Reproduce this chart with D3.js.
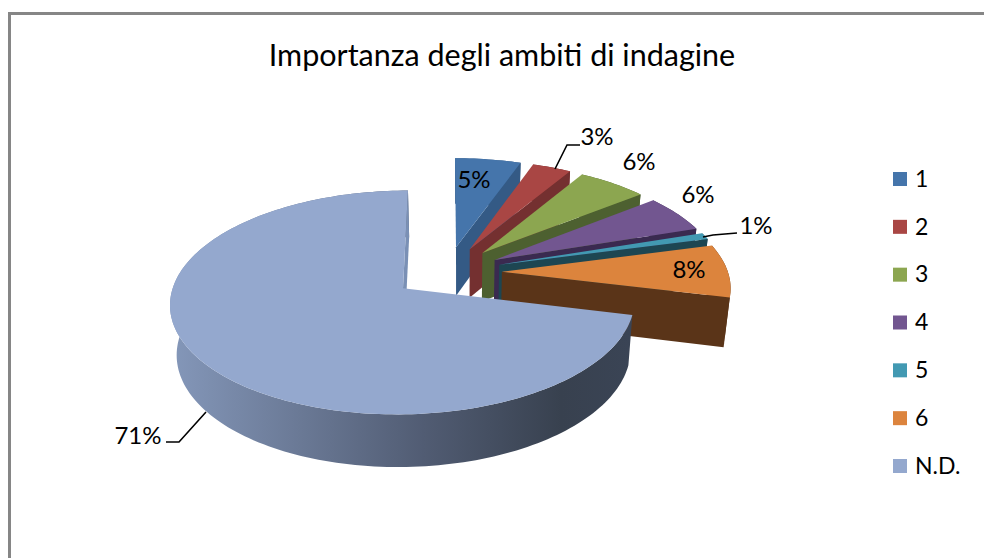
<!DOCTYPE html>
<html>
<head>
<meta charset="utf-8">
<script src="https://cdn.jsdelivr.net/npm/d3@7"></script>
<style>
html, body { margin: 0; padding: 0; background: #fff; }
svg { display: block; }
text { font-family: Lato, "Open Sans", sans-serif; fill: #000; }
</style>
</head>
<body>
<svg id="chart" width="984" height="558"></svg>
<script>
const titleText = 'Importanza degli ambiti di indagine';
const categories = ['1', '2', '3', '4', '5', '6', 'N.D.'];
const values = [5.4, 3.2, 5.7, 5.6, 1.0, 7.9, 71.2];
const topColors = ['#4575ab', '#a94644', '#8ca650', '#725690', '#4299b2', '#dc843d', '#94a8ce'];
const sideColors = ['#345a85', '#743030', '#4d6030', '#3a2a50', '#1d4652', '#5a3418', '#7a90b5'];

// Disk geometry, worked out from the reference
const cx = 447, cy = 272;
const rx = 226, ry = 106;
const persp = 0.125;      // how much the far side of the disk shrinks
const explode = 0.243;    // slice pull-out, in radius units
const depth = 49;

const svg = d3.select('#chart');
const defs = svg.append('defs');

const color = d3.scaleOrdinal().domain(categories).range(topColors);
const sideColor = d3.scaleOrdinal().domain(categories).range(sideColors);

// Front wall of the big slice fades from light (left) to dark (right)
const wallGrad = defs.append('linearGradient')
    .attr('id', 'wallGrad')
    .attr('gradientUnits', 'userSpaceOnUse')
    .attr('x1', 172).attr('x2', 630).attr('y1', 0).attr('y2', 0);
[[0, '#8497b9'], [0.55, '#515c73'], [0.85, '#38414f'], [1, '#3a4455']].forEach(s => {
    wallGrad.append('stop').attr('offset', s[0]).attr('stop-color', s[1]);
});

// Frame, only top and left sides show
svg.append('path')
    .attr('d', 'M9.5,558V13.5H984')
    .attr('fill', 'none')
    .attr('stroke', '#868686')
    .attr('stroke-width', 3);

svg.append('text')
    .attr('x', 502)
    .attr('y', 66)
    .attr('text-anchor', 'middle')
    .attr('font-size', 30.5)
    .text(titleText);

const pie = d3.pie().sort(null).value(d => d.value)
    .startAngle(0).endAngle(2 * Math.PI);
const slices = pie(categories.map((c, i) => ({name: c, value: values[i]})));

// Disk coordinates (u to the right, v toward the viewer) to screen
function project(u, v, lower) {
    const w = 1 - persp * v;
    const x = cx + rx * u / w;
    const y = cy + ry * v / w;
    if (!lower) return [x, y];
    return [460 + (x - 460) * 0.977, y + depth / (1 - 0.06 * v)];
}

function apex(s) {
    const mid = (s.startAngle + s.endAngle) / 2;
    return [explode * Math.sin(mid), -explode * Math.cos(mid)];
}

function rim(s, a, lower) {
    const o = apex(s);
    return project(o[0] + Math.sin(a), o[1] - Math.cos(a), lower);
}

function arcPoints(s, lower) {
    const n = Math.max(8, Math.ceil((s.endAngle - s.startAngle) * 40));
    return d3.range(n + 1).map(i => rim(s, s.startAngle + (s.endAngle - s.startAngle) * i / n, lower));
}

const line = d3.line();
const closed = pts => line(pts) + 'Z';

const groups = svg.selectAll('.slice')
    .data(slices)
    .join('g')
    .attr('class', 'slice');

// outer wall
groups.append('path')
    .attr('d', d => closed(arcPoints(d, false).concat(arcPoints(d, true).reverse())))
    .attr('fill', d => d.data.name === 'N.D.' ? 'url(#wallGrad)' : sideColor(d.data.name));

// cut face on the clockwise side
groups.append('path')
    .attr('d', d => {
        const o = apex(d);
        return closed([
            project(o[0], o[1], false),
            rim(d, d.endAngle, false),
            rim(d, d.endAngle, true),
            project(o[0], o[1], true)
        ]);
    })
    .attr('fill', d => sideColor(d.data.name));

// top face
groups.append('path')
    .attr('d', d => {
        const o = apex(d);
        return closed([project(o[0], o[1], false)].concat(arcPoints(d, false)));
    })
    .attr('fill', d => color(d.data.name));

// Data labels, placed by hand like the original
const labelPos = {
    '1': {x: 474, y: 182},
    '2': {x: 597, y: 139},
    '3': {x: 639, y: 164},
    '4': {x: 698, y: 197},
    '5': {x: 756, y: 228},
    '6': {x: 689, y: 272},
    'N.D.': {x: 138, y: 438}
};

svg.selectAll('.label')
    .data(slices)
    .join('text')
    .attr('class', 'label')
    .attr('x', d => labelPos[d.data.name].x)
    .attr('y', d => labelPos[d.data.name].y)
    .attr('text-anchor', 'middle')
    .attr('dominant-baseline', 'middle')
    .attr('font-size', 24)
    .text(d => Math.round(d.data.value) + '%');

// Leader lines for the labels sitting away from their slice
const leaders = [
    [[555, 169], [567, 145], [580, 145]],
    [[703, 237], [713, 235], [737, 233]],
    [[206, 412], [179, 442], [166, 442]]
];
svg.selectAll('.leader')
    .data(leaders)
    .join('path')
    .attr('class', 'leader')
    .attr('d', line)
    .attr('fill', 'none')
    .attr('stroke', '#000')
    .attr('stroke-width', 1.6);

// Legend
const legendY = d3.scalePoint().domain(categories).range([179, 466]);
const legend = svg.selectAll('.legend')
    .data(categories)
    .join('g')
    .attr('class', 'legend')
    .attr('transform', d => `translate(893,${legendY(d)})`);

legend.append('rect')
    .attr('y', -7)
    .attr('width', 14)
    .attr('height', 14)
    .attr('fill', d => color(d));

legend.append('text')
    .attr('x', 22)
    .attr('y', 2)
    .attr('dominant-baseline', 'middle')
    .attr('font-size', 23)
    .attr('fill', '#1a1a1a')
    .text(d => d);
</script>
</body>
</html>
